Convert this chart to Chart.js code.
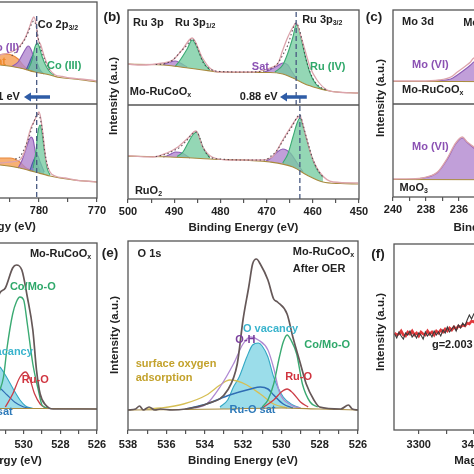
<!DOCTYPE html>
<html><head><meta charset="utf-8">
<script src="https://cdn.jsdelivr.net/npm/chart.js@4.4.1/dist/chart.umd.min.js"></script>
<style>
html,body{margin:0;padding:0;background:#fff;overflow:hidden;}
#page{position:relative;width:474px;height:474px;overflow:hidden;background:#fff;}
#page canvas{position:absolute;}
</style></head><body><div id="page"></div>
<script>
// ================= DATA =================
// (a) Co 2p : [binding energy eV, intensity a.u.]
const aTopRaw = [[810,36],[806,40],[802,44],[799,46],[797,54],[795.8,60],[794.5,52],[793,46],[791,45],[789,46],[786.7,49],[785.3,51],[784.1,54],[783.3,58],[782.4,66],[781.7,76],[781.2,84],[780.9,87],[780.5,80],[780.2,66],[779.7,59],[779.0,46],[778.1,34],[777.2,29],[776.0,27.5],[774.7,26],[772.9,25],[771.2,24],[770,23]];
const aTopBase = [[810,35],[800,39],[795,40],[791.9,41],[786.7,39],[783.3,36],[780.7,32],[778.1,29],[776.4,26.5],[774,25],[770,22]];
const aTopSat = [[793.6,41],[790.2,44],[787.5,48],[785.9,50],[784.7,49],[783.6,45],[782.9,40],[782.2,36],[781.2,32.5]];
const aTopCo2 = [[784.7,37.5],[783.6,42],[782.9,49],[782.2,56],[781.9,58],[781.6,57],[781.2,52],[780.7,42],[780.2,35],[779.5,31]];
const aTopMid = [[782.2,34],[781.6,42],[781.0,49],[780.5,44],[779.8,34],[779.1,30]];
const aTopCo3 = [[781.9,34],[781.2,44],[780.7,57],[780.3,61],[780.0,58],[779.5,48],[778.8,38],[778.1,32],[777.4,29]];
const aTopEnv = [[784.7,48],[783.3,57],[782.4,65],[781.7,74],[781.2,81],[780.9,83],[780.5,78],[780.0,62],[779.5,52],[779.0,44],[778.1,33]];
const aBotRaw = [[810,30],[805,33],[800,34],[797,38],[795.5,48],[794,38],[791,35],[788.5,34],[786.7,34],[785,35],[783.3,37],[782.4,47],[781.9,59],[781.4,69],[780.9,75],[780.3,82],[780.0,85],[779.7,79],[779.3,62],[778.8,37],[778.1,25],[777.2,21],[775.5,19],[773.8,17],[772.1,16],[770,15]];
const aBotBase = [[810,29],[800,32],[791,33.5],[786.7,32],[783.3,29],[780.7,25],[778.1,21],[776.4,19],[774,17],[770,15]];
const aBotSat = [[792,34],[789,37],[786.7,39],[785,39],[783.3,35],[782.2,29],[781.4,27]];
const aBotCo2 = [[783.6,29],[782.9,37],[782.2,49],[781.7,57],[781.4,60],[781.0,57],[780.7,47],[780.3,34],[779.8,25]];
const aBotMid = [[781.6,26],[780.9,37],[780.3,42],[779.8,35],[779.1,25]];
const aBotCo3 = [[781.0,29],[780.5,47],[780.2,64],[779.8,72],[779.5,65],[779.1,47],[778.6,29],[778.1,22]];
const aBotEnv = [[784.1,38],[783.3,40],[782.4,50],[781.7,60],[781.2,70],[780.7,78],[780.3,83],[780.0,82],[779.5,70],[779.0,45],[778.4,28]];
const aShiftLine = [[780.4,0],[780.4,183]];
const aMajor = [770,780,790,800,810], aMinor = [775,785,795,805];

// (b) Ru 3p
const bTopRaw = [[501.7,42],[497.4,40],[492.4,42],[490.3,45],[488.3,55],[486.1,67],[484.0,48],[482.3,37],[480.1,33],[472.9,33],[469.3,37],[467.5,42],[466.5,55],[465.4,68],[464.3,78],[463.6,82],[462.8,72],[461.7,55],[460.6,38],[459.1,25],[456.9,15],[454.8,13],[450.2,12]];
const bTopBase = [[501.7,41],[492.4,40],[490.3,39],[487,37],[483.8,35],[480.1,33],[472.9,32.5],[469.3,32.5],[466.5,31],[464.3,27],[461.7,21],[459.1,17],[456.9,14.5],[454.8,13],[450.2,12]];
const bTopS2 = [[492.4,40.5],[490.9,43],[489.8,44],[488.7,42],[487.2,38]];
const bTopG2 = [[489.8,38.5],[488.7,45],[487.2,56],[486.1,65],[485.3,60],[484.4,50],[483.4,41],[482.3,35]];
const bTopS1 = [[470.5,33],[469.3,35],[467.7,39],[466.5,42],[465.4,40],[464.6,34],[463.6,27]];
const bTopG1 = [[468.2,33],[466.5,40],[465.4,52],[464.3,68],[463.6,80],[463.2,78],[462.6,68],[461.7,50],[460.6,32],[459.5,22],[458.4,17],[457.2,15]];
const bTopEnv = [[494,40.5],[492.4,41],[490.3,45],[488.7,53],[487.2,60],[486.1,66],[485.1,59],[483.8,43],[482.3,36],[480,33.5],[475,33],[470.5,34],[469.3,36],[467.7,41],[466.5,50],[465.4,60],[464.3,76],[463.6,82],[463.0,77],[462.3,64],[461.7,50],[460.6,33],[459.5,23],[458.4,18],[457,15]];
const bBotRaw = [[501.7,44],[494.6,42],[491.6,46],[489.2,52],[487.0,61],[485.3,68],[483.8,52],[481.8,42],[477.9,39],[471.4,39],[468.8,42],[467.7,49],[466.5,59],[464.9,71],[463.4,81],[462.8,83],[461.7,66],[460.2,42],[458.4,26],[455.6,17],[450.2,16]];
const bBotBase = [[501.7,43],[490.9,42],[482.3,40],[469.3,37],[464.3,32],[461.3,24],[457.8,17],[454,15.5],[450.2,15]];
const bBotS2 = [[492.4,42],[491.6,43],[490.3,46],[489.8,47],[488.3,46],[486.6,41]];
const bBotG2 = [[489.4,42.5],[488.1,47],[487.0,56],[486.0,64],[485.1,67],[484.4,60],[483.8,52],[482.3,41]];
const bBotS1 = [[470.2,38],[469.3,40],[467.7,47],[466.5,50],[464.9,46],[463.4,36],[462.1,27]];
const bBotG1 = [[466.5,36],[465.4,45],[464.3,62],[463.4,76],[462.8,81],[462.1,72],[461.3,59],[460.0,39],[458.9,28],[457.8,22]];
const bBotEnv = [[494,42.5],[491.6,45],[490.3,48],[488.7,52],[487.2,59],[486.1,65],[485.1,67],[484.4,60],[483.8,52],[482.3,42],[480,40],[475,39],[470.2,39],[469.3,42],[467.7,49],[466.5,58],[465.4,66],[464.3,74],[463.4,82],[462.8,84],[462.1,74],[461.3,60],[460.0,40],[458.9,29],[457.8,22]];
const bShiftTop = [[463.6,94],[463.6,189]];
const bShiftBot = [[462.8,0],[462.8,102]];
const bMajor = [450,460,470,480,490,500], bMinor = [455,465,475,485,495];

// (c) Mo 3d
const cTopRaw = [[240,23],[238.4,23],[237.2,24],[236.5,27],[236.1,32],[235.6,38],[235.3,42],[235.1,46],[234.7,44],[234.0,36],[233.5,34],[232.8,50],[232.4,58],[232.0,52],[231.3,35],[230.5,26],[228,23],[226,22]];
const cTopBase = [[240,22.5],[236,22.5],[232,22],[226,21.5]];
const cTopMo = [[237.5,23],[237.2,23.5],[236.5,25],[236.1,29],[235.6,35],[235.3,39],[235.1,42],[234.8,43],[234.4,40],[233.8,33],[233.2,31],[232.6,48],[232.3,52],[232.0,48],[231.5,35],[231.0,26],[230.2,23]];
const cBotRaw = [[240,16],[238.4,16.5],[238.2,17],[237.3,23],[236.7,37],[236.2,52],[235.8,58],[235.5,53],[235.1,48],[234.6,42],[234.0,50],[233.2,75],[232.6,88],[232.3,89],[231.8,75],[231.2,40],[230.5,22],[229.5,17],[226,16]];
const cBotBase = [[240,15.5],[226,15]];
const cBotMo = [[238.6,16],[238.0,17.5],[237.3,22.5],[236.7,36],[236.2,51],[235.8,57],[235.5,52.5],[235.1,47],[234.6,41],[234.0,49],[233.2,74],[232.6,87],[232.3,88],[231.8,74],[231.2,39],[230.5,21],[229.5,16.5]];
const cMajor = [226,228,230,232,234,236,238,240], cMinor = [227,229,231,233,235,237,239];

// (d) O 1s Mo-RuCoOx
const dEnv = [[538,22],[536,24],[534,28],[533,35],[532.3,60],[531.8,100],[531.5,125],[531.3,137],[531.0,142],[530.6,162],[530.4,165],[530.1,160],[529.8,133],[529.5,100],[529.3,60],[529.1,36],[528.8,25],[528.4,21],[527.6,21],[526,21]];
const dBase = [[538,21],[532,21.5],[529,21.5],[526,21]];
const dVac = [[533,23],[532.3,40],[531.8,58],[531.5,64],[531.3,63],[531.0,55],[530.6,42],[530.2,30],[529.9,24],[529.5,21.5]];
const dSat = [[533.5,22],[532.5,35],[532,42],[531.5,44],[531.3,42],[530.9,35],[530.5,28],[530.0,23],[529.6,21.5]];
const dCo = [[532,22],[531.6,30],[531.3,40],[531.1,53],[530.9,83],[530.6,116],[530.4,128],[530.2,133],[530.0,130],[529.8,106],[529.5,66],[529.2,40],[529.0,25],[528.7,22]];
const dRuO = [[531.0,23],[530.6,36],[530.2,53],[529.9,58],[529.7,53],[529.4,36],[529.1,26],[528.8,22]];
const oMajor = [526,528,530,532,534,536,538], oMinor = [527,529,531,533,535,537];

// (e) O 1s after OER
const eEnv = [[538,20],[537.6,21],[537.4,24],[537.2,20],[536.9,23],[536.6,20],[536.3,21],[535.7,20],[535.0,21],[533.9,26],[532.8,40],[532.3,66],[532.0,110],[531.7,143],[531.5,166],[531.3,171],[531.1,166],[530.7,150],[530.4,131],[530.2,128],[529.7,116],[529.4,93],[529.0,66],[528.7,46],[528.3,30],[528.0,23],[526.9,21],[526.5,25],[526.3,21],[526,20]];
const eBase = [[538,20],[533,21],[530,22],[528,21],[526,20]];
const eVac = [[533.2,23],[532.8,30],[532.5,43],[532.2,53],[531.8,73],[531.5,85],[531.2,87],[531.0,84],[530.7,73],[530.4,53],[529.9,33],[529.4,25],[529.0,22]];
const eOH = [[534.5,22],[533.9,26],[533.2,43],[532.5,66],[532.0,86],[531.6,93],[531.2,90],[530.7,80],[530.4,62],[530.1,38],[529.5,25],[529.0,22]];
const eCo = [[531.0,23],[530.7,30],[530.4,46],[530.1,73],[529.9,88],[529.7,95],[529.5,90],[529.2,76],[528.9,46],[528.5,28],[528.1,23]];
const eRuO = [[531.0,22],[530.4,30],[530.0,38],[529.7,41],[529.4,37],[529.0,28],[528.6,23]];
const eSurf = [[537,21],[536.3,22],[535.1,26],[533.9,35],[533.2,45],[532.7,50],[532.3,49],[531.8,45],[531.1,36],[530.4,26],[529.7,22]];
const eSat = [[535,21],[533.9,26],[532.7,35],[531.6,41],[531.1,43],[530.7,41],[530.4,35],[529.9,26],[529.4,22]];

// (f) EPR
const fField = [3256,3260,3264,3268,3272,3276,3280,3284,3288,3292,3296,3300,3304,3308,3312,3316,3320,3324,3328,3332,3336,3340,3344,3348,3352,3356,3360,3364,3368,3372,3376,3380,3384,3388,3392,3396,3400,3404,3408,3412,3416,3420,3424,3440,3460,3475,3490,3500,3510,3525,3545,3570,3600,3630,3655];
const fBlack = [96,92,98,94,91,97,95,99,93,96,92,97,95,91,98,94,97,93,99,95,98,94,100,97,103,98,101,104,99,105,102,107,104,110,115,111,116,113,118,115,120,118,122,126,137,148,125,96,62,48,74,90,95,94,96];
const fRed = [97,95,96,99,95,94,98,96,99,95,97,94,98,96,95,99,96,98,95,99,97,100,98,101,99,102,100,103,101,104,103,105,104,107,106,109,108,111,110,113,112,115,114,122,133,142,122,97,66,52,76,91,96,95,97];
const fMajor = [3300,3400,3500,3600], fMinor = [3350,3450,3550,3650];

// ================= STYLE / HELPERS =================
const FONT = "'Liberation Sans', Arial, Helvetica, sans-serif";
Chart.defaults.font.family = FONT;
Chart.defaults.font.weight = 'bold';
Chart.defaults.color = '#222';

const C = {
  raw:'#dca4ac', env:'rgba(70,55,65,0.85)', base:'#a88a3e', dash:'#485a82', arrow:'#2e5ca6',
  green:'#3aaa72', greenF:'rgba(118,204,160,0.78)',
  purple:'#8d5db6', purpleF:'rgba(176,132,206,0.78)',
  blue:'#4b5fa6', blueF:'rgba(88,108,180,0.6)',
  orange:'#e8873a', orangeF:'rgba(246,162,92,0.85)',
  ink:'#222', dark:'#655858', cyan:'#33a8c4', cyanF:'rgba(88,198,220,0.6)',
  red:'#cc3d47', ruSat:'#2f6db4', oh:'#b08ad2', surf:'#d6bf55',
  tGreen:'#2fa86a', tPurple:'#8b51b3', tOrange:'#ef8a2c', tCyan:'#3ab4cd', tRed:'#d0343f',
  tBlue:'#2e7ab9', tGold:'#c3a22c', tOH:'#7a3f9d', fBlack:'#3a3a3a', fRed:'#e0393c'
};

const pts = (arr, d = 0) => arr.map(([x, y]) => ({ x, y: y + d }));
const pairs = (xs, ys) => xs.map((x, i) => ({ x, y: ys[i] }));

function ln(data, color, o = {}) {
  return Object.assign({ data, borderColor: color, backgroundColor: 'transparent', borderWidth: 1.1,
    pointRadius: 0, fill: false, tension: 0.4, cubicInterpolationMode: 'monotone', order: 3 }, o);
}
function area(data, color, fillColor, target, order) {
  return ln(data, color, { fill: { target }, backgroundColor: fillColor, order });
}
function vline(data, color) {
  return ln(data, color, { borderDash: [5, 3], borderWidth: 1.3, tension: 0, cubicInterpolationMode: 'default', order: 0 });
}

function richText(ctx, str, x, y, size, color, align) {
  const parts = []; const re = /_\{([^}]*)\}/g; let last = 0, m;
  while ((m = re.exec(str))) { if (m.index > last) parts.push([str.slice(last, m.index), false]); parts.push([m[1], true]); last = re.lastIndex; }
  if (last < str.length) parts.push([str.slice(last), false]);
  const big = `bold ${size}px ${FONT}`, small = `bold ${Math.round(size * 0.68)}px ${FONT}`;
  let w = 0; for (const [t, s] of parts) { ctx.font = s ? small : big; w += ctx.measureText(t).width; }
  let cx = align === 'right' ? x - w : align === 'center' ? x - w / 2 : x;
  ctx.fillStyle = color; ctx.textBaseline = 'middle'; ctx.textAlign = 'left';
  for (const [t, s] of parts) { ctx.font = s ? small : big; ctx.fillText(t, cx, s ? y + size * 0.32 : y); cx += ctx.measureText(t).width; }
}

function notesPlugin(cfg) {
  return {
    id: 'notes',
    afterDraw(chart) {
      const { ctx, chartArea: a } = chart; const sx = chart.scales.x, sy = chart.scales.y;
      ctx.save();
      ctx.strokeStyle = '#555'; ctx.lineWidth = 1.3;
      ctx.strokeRect(a.left, a.top, a.right - a.left, a.bottom - a.top);
      if (cfg.divider != null) {
        const yy = sy.getPixelForValue(cfg.divider);
        ctx.beginPath(); ctx.moveTo(a.left, yy); ctx.lineTo(a.right, yy); ctx.stroke();
      }
      (cfg.arrows || []).forEach(ar => {
        const x1 = sx.getPixelForValue(ar.from), x2 = sx.getPixelForValue(ar.to), yy = sy.getPixelForValue(ar.y);
        const dir = Math.sign(x2 - x1);
        ctx.strokeStyle = C.arrow; ctx.fillStyle = C.arrow; ctx.lineWidth = 3.5;
        ctx.beginPath(); ctx.moveTo(x1, yy); ctx.lineTo(x2 - dir * 6, yy); ctx.stroke();
        ctx.beginPath(); ctx.moveTo(x2, yy); ctx.lineTo(x2 - dir * 7, yy - 4.5); ctx.lineTo(x2 - dir * 7, yy + 4.5); ctx.closePath(); ctx.fill();
      });
      (cfg.labels || []).forEach(l => {
        let px, py;
        if (l.page) { px = l.x - cfg.ox; py = l.y - cfg.oy; }
        else { px = sx.getPixelForValue(l.x); py = sy.getPixelForValue(l.y); }
        ctx.save(); ctx.translate(px, py); if (l.rot) ctx.rotate(-Math.PI / 2);
        richText(ctx, l.text, 0, 0, l.size || 11, l.color || C.ink, l.align || 'left');
        ctx.restore();
      });
      ctx.restore();
    }
  };
}

function makeChart(box, xo, yo, datasets, cfg) {
  const PL = 50, PR = 25, PT = 20, PB = 6;
  const cv = document.createElement('canvas');
  const w = box.R - box.L + PL + PR, h = box.B - box.T + PT + box.H + PB;
  cv.width = w; cv.height = h;
  cv.style.left = (box.L - PL) + 'px'; cv.style.top = (box.T - PT) + 'px';
  cv.style.width = w + 'px'; cv.style.height = h + 'px';
  document.getElementById('page').appendChild(cv);
  cfg.ox = box.L - PL; cfg.oy = box.T - PT;
  const allTicks = xo.major.concat(xo.minor).sort((p, q) => p - q);
  return new Chart(cv, {
    type: 'line',
    data: { datasets },
    options: {
      responsive: false, animation: false, devicePixelRatio: 1,
      layout: { padding: { left: PL, right: PR, top: PT, bottom: PB } },
      plugins: { legend: { display: false }, tooltip: { enabled: false } },
      scales: {
        x: {
          type: 'linear', min: xo.min, max: xo.max, reverse: !!xo.reverse,
          afterFit: s => { s.height = box.H; },
          afterBuildTicks: s => { s.ticks = allTicks.map(v => ({ value: v })); },
          border: { display: false },
          grid: { display: true, drawOnChartArea: false, drawTicks: true, tickLength: 4, color: '#555', lineWidth: 1.2 },
          ticks: { autoSkip: false, maxRotation: 0, padding: xo.pad, color: C.ink, font: { size: 11, weight: 'bold' },
            callback: v => (xo.major.includes(v) ? String(v) : '') },
          title: { display: true, text: xo.title, color: C.ink, font: { size: 11.5, weight: 'bold' }, padding: { top: 0, bottom: 0 } }
        },
        y: { type: 'linear', display: false, min: yo.min, max: yo.max }
      }
    },
    plugins: [notesPlugin(cfg)]
  });
}

const BE = 'Binding Energy (eV)';

// ================= (a) =================
const OFF_A = 93;
makeChart({ L: -135, R: 97, T: 2, B: 198, H: 36 },
  { min: 770, max: 810, reverse: true, major: aMajor, minor: aMinor, title: BE, pad: 2 },
  { min: -1, max: 195 },
  [
    ln(pts(aTopBase, OFF_A), C.base, { order: 2 }),
    ln(pts(aBotBase), C.base, { order: 2 }),
    area(pts(aTopSat, OFF_A), C.orange, C.orangeF, 0, 7),
    area(pts(aTopCo2, OFF_A), C.purple, C.purpleF, 0, 6),
    area(pts(aTopMid, OFF_A), C.blue, C.blueF, 0, 5),
    area(pts(aTopCo3, OFF_A), C.green, C.greenF, 0, 4),
    area(pts(aBotSat), C.orange, C.orangeF, 1, 7),
    area(pts(aBotCo2), C.purple, C.purpleF, 1, 6),
    area(pts(aBotMid), C.blue, C.blueF, 1, 5),
    area(pts(aBotCo3), C.green, C.greenF, 1, 4),
    ln(pts(aTopRaw, OFF_A), C.raw, { order: 1, borderWidth: 1.3 }),
    ln(pts(aBotRaw), C.raw, { order: 1, borderWidth: 1.3 }),
    ln(pts(aTopEnv, OFF_A), C.env, { order: 0.5, borderDash: [1.5, 2.5] }),
    ln(pts(aBotEnv), C.env, { order: 0.5, borderDash: [1.5, 2.5] }),
    vline(pts(aShiftLine), C.dash)
  ],
  { divider: OFF_A,
    arrows: [{ from: 778.1, to: 782.6, y: 100 }],
    labels: [
      { text: 'Co 2p_{3/2}', x: 780.2, y: 172 },
      { text: 'Co (II)', x: 783.4, y: 149, color: C.tPurple, align: 'right' },
      { text: 'Co (III)', x: 778.6, y: 131, color: C.tGreen },
      { text: 'sat', x: 785.7, y: 135, color: C.tOrange, align: 'right' },
      { text: '0.91 eV', x: 783.3, y: 100, align: 'right' }
    ] });

// ================= (b) =================
const OFF_B = 94;
makeChart({ L: 128, R: 359, T: 10, B: 199, H: 36 },
  { min: 450, max: 500, reverse: true, major: bMajor, minor: bMinor, title: BE, pad: 2 },
  { min: 0, max: 189 },
  [
    ln(pts(bTopBase, OFF_B), C.base, { order: 2 }),
    ln(pts(bBotBase), C.base, { order: 2 }),
    area(pts(bTopS2, OFF_B), C.purple, C.purpleF, 0, 6),
    area(pts(bTopG2, OFF_B), C.green, C.greenF, 0, 4),
    area(pts(bTopS1, OFF_B), C.purple, C.purpleF, 0, 6),
    area(pts(bTopG1, OFF_B), C.green, C.greenF, 0, 4),
    area(pts(bBotS2), C.purple, C.purpleF, 1, 6),
    area(pts(bBotG2), C.green, C.greenF, 1, 4),
    area(pts(bBotS1), C.purple, C.purpleF, 1, 6),
    area(pts(bBotG1), C.green, C.greenF, 1, 4),
    ln(pts(bTopRaw, OFF_B), C.raw, { order: 1, borderWidth: 1.3 }),
    ln(pts(bBotRaw), C.raw, { order: 1, borderWidth: 1.3 }),
    ln(pts(bTopEnv, OFF_B), C.env, { order: 0.5, borderDash: [1.5, 2.5] }),
    ln(pts(bBotEnv), C.env, { order: 0.5, borderDash: [1.5, 2.5] }),
    vline(pts(bShiftTop), C.dash),
    vline(pts(bShiftBot), C.dash)
  ],
  { divider: OFF_B,
    arrows: [{ from: 461.3, to: 467.1, y: 102 }],
    labels: [
      { text: '(b)', x: 112, y: 17, page: true, size: 13.5, align: 'center' },
      { text: 'Intensity (a.u.)', x: 114, y: 96, page: true, rot: true, size: 11.5, align: 'center' },
      { text: 'Ru 3p', x: 498.9, y: 176 },
      { text: 'Ru 3p_{1/2}', x: 489.8, y: 176 },
      { text: 'Ru 3p_{3/2}', x: 462.3, y: 179 },
      { text: 'Sat.', x: 473.2, y: 132, color: C.tPurple },
      { text: 'Ru (IV)', x: 460.6, y: 132, color: C.tGreen },
      { text: 'Mo-RuCoO_{x}', x: 499.6, y: 107 },
      { text: '0.88 eV', x: 467.6, y: 102, align: 'right' },
      { text: 'RuO_{2}', x: 498.5, y: 8 }
    ] });

// ================= (c) =================
const OFF_C = 91;
makeChart({ L: 393, R: 624, T: 10, B: 197, H: 38 },
  { min: 226, max: 240, reverse: true, major: cMajor, minor: cMinor, title: BE, pad: 2 },
  { min: -2, max: 185 },
  [
    ln(pts(cTopBase, OFF_C), C.base, { order: 2 }),
    ln(pts(cBotBase), C.base, { order: 2 }),
    area(pts(cTopMo, OFF_C), C.purple, C.purpleF, 0, 6),
    area(pts(cBotMo), C.purple, C.purpleF, 1, 6),
    ln(pts(cTopRaw, OFF_C), C.raw, { order: 1, borderWidth: 1.3 }),
    ln(pts(cBotRaw), C.raw, { order: 1, borderWidth: 1.3 })
  ],
  { divider: OFF_C,
    labels: [
      { text: '(c)', x: 374, y: 17, page: true, size: 13.5, align: 'center' },
      { text: 'Intensity (a.u.)', x: 381, y: 98, page: true, rot: true, size: 11.5, align: 'center' },
      { text: 'Mo 3d', x: 239.45, y: 173 },
      { text: 'Mo 3d_{3/2}', x: 235.75, y: 172 },
      { text: 'Mo (VI)', x: 238.85, y: 130, color: C.tPurple },
      { text: 'Mo-RuCoO_{x}', x: 239.45, y: 105 },
      { text: 'Mo (VI)', x: 238.85, y: 48, color: C.tPurple },
      { text: 'MoO_{3}', x: 239.6, y: 7 }
    ] });

// ================= (d) =================
makeChart({ L: -123, R: 97, T: 243, B: 430, H: 38 },
  { min: 526, max: 538, reverse: true, major: oMajor, minor: oMinor, title: BE, pad: 4 },
  { min: 0, max: 187 },
  [
    ln(pts(dBase), C.base, { order: 2 }),
    area(pts(dVac), C.cyan, C.cyanF, 0, 6),
    ln(pts(dSat), C.ruSat, { order: 4 }),
    ln(pts(dCo), C.green, { order: 3, borderWidth: 1.4 }),
    ln(pts(dRuO), C.red, { order: 3, borderWidth: 1.3 }),
    ln(pts(dEnv), C.dark, { order: 1, borderWidth: 1.7 })
  ],
  { labels: [
      { text: 'Mo-RuCoO_{x}', x: 529.66, y: 176 },
      { text: 'Co/Mo-O', x: 530.75, y: 143, color: C.tGreen },
      { text: 'O vacancy', x: 529.5, y: 78, color: C.tCyan, align: 'right' },
      { text: 'Ru-O', x: 530.1, y: 50, color: C.tRed },
      { text: 'Ru-O sat', x: 530.6, y: 18, color: C.tBlue, align: 'right' }
    ] });

// ================= (e) =================
makeChart({ L: 128, R: 358, T: 241, B: 430, H: 38 },
  { min: 526, max: 538, reverse: true, major: oMajor, minor: oMinor, title: BE, pad: 4 },
  { min: 0, max: 189 },
  [
    ln(pts(eBase), C.base, { order: 2 }),
    area(pts(eVac), C.cyan, C.cyanF, 0, 6),
    ln(pts(eOH), C.oh, { order: 4, borderWidth: 1.3 }),
    ln(pts(eCo), C.green, { order: 3, borderWidth: 1.4 }),
    ln(pts(eRuO), C.red, { order: 3, borderWidth: 1.3 }),
    ln(pts(eSurf), C.surf, { order: 4, borderWidth: 1.3 }),
    ln(pts(eSat), C.ruSat, { order: 3, borderWidth: 1.5 }),
    ln(pts(eEnv), C.dark, { order: 1, borderWidth: 1.7 })
  ],
  { labels: [
      { text: '(e)', x: 110, y: 253, page: true, size: 13.5, align: 'center' },
      { text: 'Intensity (a.u.)', x: 115, y: 335, page: true, rot: true, size: 11.5, align: 'center' },
      { text: 'O 1s', x: 537.5, y: 176 },
      { text: 'Mo-RuCoO_{x}', x: 529.4, y: 178 },
      { text: 'After OER', x: 529.4, y: 161 },
      { text: 'O vacancy', x: 532.0, y: 101, color: C.tCyan },
      { text: 'O-H', x: 532.4, y: 90, color: C.tOH },
      { text: 'Co/Mo-O', x: 528.8, y: 85, color: C.tGreen },
      { text: 'surface oxygen', x: 537.6, y: 66, color: C.tGold },
      { text: 'adsorption', x: 537.6, y: 52, color: C.tGold },
      { text: 'Ru-O', x: 529.8, y: 53, color: C.tRed },
      { text: 'Ru-O sat', x: 532.7, y: 20, color: C.tBlue }
    ] });

// ================= (f) =================
makeChart({ L: 394, R: 614, T: 244, B: 430, H: 38 },
  { min: 3255, max: 3655, reverse: false, major: fMajor, minor: fMinor, title: 'Magnetic Field (G)', pad: 4 },
  { min: 0, max: 186 },
  [
    ln(pairs(fField, fBlack), C.fBlack, { order: 1, borderWidth: 1.1, tension: 0, cubicInterpolationMode: 'default' }),
    ln(pairs(fField, fRed), C.fRed, { order: 2, borderWidth: 2.6, tension: 0, cubicInterpolationMode: 'default' })
  ],
  { labels: [
      { text: '(f)', x: 378, y: 254, page: true, size: 13.5, align: 'center' },
      { text: 'Intensity (a.u.)', x: 381, y: 332, page: true, rot: true, size: 11.5, align: 'center' },
      { text: 'g=2.003', x: 3324, y: 85 }
    ] });
</script></body></html>
